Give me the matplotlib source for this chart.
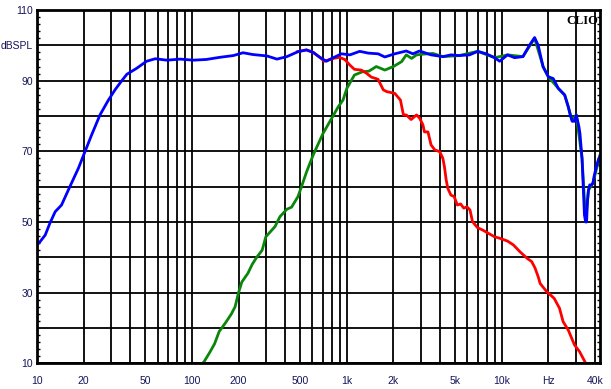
####################################################################################
# Imports                                                                          #
####################################################################################
import numpy as np
from matplotlib import pyplot as plt
from matplotlib.ticker import FixedLocator, NullFormatter


####################################################################################
# Data                                                    #
####################################################################################

# Total response (blue)
blue_freq = [ 10, 10.5, 11.3, 12.1, 13.1, 14.4, 16.3, 18.5, 20.4, 22.5, 25.5, 28.9,
              32, 35, 38, 44, 51, 58, 69, 84, 102, 124, 151, 185, 214, 247, 305,
              354, 410, 484, 549, 607, 665, 738, 818, 924, 1047, 1211, 1375, 1593,
              1760, 2040, 2420, 2670, 2950, 3500, 4170, 4700, 5300, 6200, 7000,
              7950, 9000, 9700, 10900, 12100, 13700, 15100, 16300, 17200, 18500,
              20000, 21500, 23200, 25500, 26900, 27600, 28500, 29500, 30300, 31500,
              32000, 33000, 33600, 34200, 34800, 35300, 35800, 36300, 37000, 38000,
              38800, 39500, 41000, 42000, 43000 ]
blue_spl  = [ 43.5, 44.5, 46.3, 49.6, 52.9, 54.8, 60, 65.2, 69.9, 74.6, 80.3, 84.5,
              87.5, 89.8, 91.8, 93.5, 95.5, 96.2, 95.8, 96.1, 95.8, 96, 96.6, 97.1,
              97.9, 97.4, 97, 96.1, 96.8, 98.2, 98.7, 98, 96.7, 95.5, 96.5, 97.6,
              97.3, 98.3, 97.8, 97.6, 96.7, 97.6, 98.4, 97.6, 98.4, 97.3, 96.8, 97.3,
              97.1, 97.3, 98.3, 97.6, 96.5, 95.5, 97.3, 96.5, 96.8, 100, 102.2, 100,
              93.9, 91.1, 90.6, 87.8, 85.9, 82.6, 80.5, 78.5, 78.5, 80.3, 77, 75,
              68, 60, 52, 50, 50, 56, 59, 60.5, 60.5, 61, 63, 66, 67.5, 68.5 ]

# Low-pass section (red)
red_freq  = [ 480, 549, 607, 665, 716, 818, 895, 970, 1047, 1120, 1240, 1340, 1440,
              1590, 1720, 1810, 2040, 2220, 2320, 2420, 2600, 2820, 2950, 3100, 3170,
              3340, 3500, 3700, 3980, 4170, 4270, 4380, 4490, 4700, 4930, 5170, 5430,
              5690, 5960, 6240, 6480, 6970, 7550, 8200, 9000, 9700, 10900, 11900,
              13100, 14600, 15600, 16400, 17200, 17700, 19500, 21800, 23600, 24900,
              26900, 29500, 31800, 34500, 36000 ]
red_spl   = [ 98.2, 98.7, 98, 96.7, 95.5, 96.3, 96.6, 96, 94.4, 93.2, 93, 92.1, 91,
              90.4, 87.4, 86.9, 86.4, 84.5, 80.3, 80.3, 79, 80.3, 79.4, 77.5, 75.5,
              75.5, 71.8, 70.4, 69.9, 68, 65.6, 61.9, 59.5, 57.6, 57.2, 54.8, 55.1,
              53.9, 54.3, 53.4, 50.1, 48.4, 47.7, 46.8, 45.8, 45.4, 44.6, 43.5, 41.6,
              39.7, 38.8, 37, 34.5, 32.6, 30.3, 28.4, 25.6, 21.8, 19.4, 15.2, 13.3,
              10.4, 8 ]

# High-pass section (green)
green_freq = [ 112, 120, 130, 140, 150, 165, 180, 190, 200, 210, 230, 245, 262, 284,
               300, 344, 370, 410, 440, 484, 510, 550, 607, 703, 800, 880, 945, 1000,
               1120, 1260, 1390, 1550, 1760, 2000, 2260, 2420, 2620, 2820, 3100, 3600,
               4170, 5300, 7000, 9000, 10900, 13700, 16300, 18500, 20000, 23200,
               25500, 28500, 30300, 33000, 34800, 36300, 38800, 43000 ]
green_spl  = [ 9, 10.5, 13, 15.5, 19, 21.5, 24, 26, 30, 33, 35.5, 38, 40, 42, 45.8,
               48.7, 51.5, 53.6, 54.2, 57.2, 60, 64.2, 69, 75.1, 79.4, 82.6, 84.5,
               87.8, 91.6, 92.5, 92.7, 94, 93, 94, 95.4, 97.3, 96.3, 97.3, 97.5, 97.7,
               96.8, 97.1, 98.3, 96.5, 97.3, 96.8, 102, 94, 91.1, 87.8, 86, 78.8, 80.3,
               68, 50.5, 59, 61, 68.8 ]

# Axis labels
x_label_freqs = [ 10, 20, 50, 100, 200, 500, 1000, 2000, 5000, 10000, 20000, 40000 ]
x_label_text  = [ "10", "20", "50", "100", "200", "500", "1k", "2k", "5k", "10k",
                  "Hz", "40k" ]
y_label_vals  = [ 10, 20, 30, 40, 50, 60, 70, 80, 90, 100, 110 ]
y_label_text  = [ "10", "", "30", "", "50", "", "70", "", "90", "dBSPL", "110" ]


####################################################################################
# Plot                                                                             #
####################################################################################
LABEL_COLOR = "#14145a"
plt.rcParams['font.family'] = ['Liberation Sans', 'DejaVu Sans']

fig = plt.figure( figsize=(6.11, 3.89), dpi=100 )
ax  = fig.add_axes( [37/611, 1 - 363.3/389, (600 - 37)/611, (363.3 - 10)/389] )

# Grid: every 1..9 per decade, every 10 dB
grid_freqs = [ m*10**d for d in range( 1, 5 ) for m in range( 1, 10 ) if m*10**d <= 40000 ]
for f in grid_freqs:
    ax.axvline( f, color="black", lw=1.3, zorder=1 )
for v in y_label_vals:
    ax.axhline( v, color="black", lw=1.3, zorder=1 )

ax.plot( green_freq, green_spl, color="#0a870a", lw=2.0, zorder=2 )
ax.plot( red_freq,   red_spl,   color="#ff0000", lw=2.0, zorder=3 )
ax.plot( blue_freq,  blue_spl,  color="#0000ff", lw=2.0, zorder=4 )

ax.set_xscale( "log" )
ax.set_xlim( 10, 43100 )
ax.set_ylim( 10, 110 )

ax.xaxis.set_major_locator( FixedLocator( x_label_freqs ) )
ax.xaxis.set_minor_locator( FixedLocator( [] ) )
ax.xaxis.set_minor_formatter( NullFormatter() )
ax.set_xticklabels( x_label_text )
ax.set_yticks( y_label_vals )
ax.set_yticklabels( y_label_text )
ax.yaxis.set_minor_locator( FixedLocator( np.arange( 10, 111, 2 ) ) )

ax.tick_params( axis="x", which="major", length=0, pad=9, labelsize=7.5,
                labelcolor=LABEL_COLOR )
ax.tick_params( axis="y", which="major", length=0, pad=3, labelsize=7.5,
                labelcolor=LABEL_COLOR )
ax.tick_params( axis="y", which="minor", direction="in", length=2.5, width=1,
                left=True, right=True )

for spine in ax.spines.values():
    spine.set_linewidth( 2.0 )
    spine.set_zorder( 5 )

ax.text( 0.997, 0.985, "CLIO", transform=ax.transAxes, ha="right", va="top",
         fontsize=9, fontweight="bold", family="Liberation Serif", zorder=6 )

fig.savefig( "out.png", dpi=100 )
